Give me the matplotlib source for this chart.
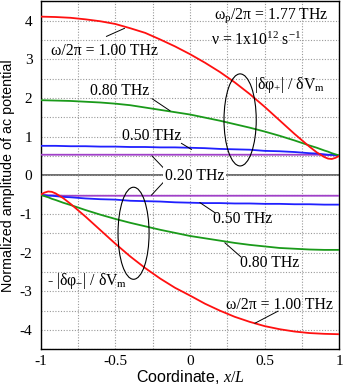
import matplotlib
matplotlib.use("Agg")
import matplotlib.pyplot as plt
from matplotlib.patches import Ellipse
from matplotlib.ticker import MultipleLocator

plt.rcParams["axes.unicode_minus"] = False
plt.rcParams["mathtext.fontset"] = "custom"
plt.rcParams["mathtext.rm"] = "Liberation Serif"
plt.rcParams["mathtext.it"] = "Liberation Serif:italic"

# values, x = coordinate x/L
x = [-1.0, -0.9, -0.8, -0.7, -0.6, -0.5, -0.4, -0.3, -0.2, -0.1, 0.0,
     0.1, 0.2, 0.3, 0.4, 0.5, 0.6, 0.7, 0.8, 0.85, 0.9, 0.925, 0.95, 0.975, 1.0]

# |dphi+| / dVm
red_up = [4.10, 4.09, 4.07, 4.03, 3.98, 3.91, 3.80, 3.68, 3.51, 3.33, 3.13,
          2.91, 2.67, 2.40, 2.10, 1.77, 1.42, 1.07, 0.74, 0.59, 0.47, 0.43, 0.42, 0.45, 0.50]
green_up = [1.94, 1.93, 1.92, 1.90, 1.88, 1.85, 1.81, 1.75, 1.69, 1.63, 1.57,
            1.49, 1.41, 1.32, 1.23, 1.13, 1.02, 0.90, 0.77, 0.71, 0.64, 0.61, 0.57, 0.54, 0.51]
blue_up = [0.76, 0.76, 0.75, 0.75, 0.74, 0.74, 0.73, 0.73, 0.72, 0.72, 0.71,
           0.70, 0.68, 0.67, 0.66, 0.63, 0.62, 0.60, 0.57, 0.56, 0.54, 0.53, 0.53, 0.52, 0.51]
purple_up = [0.53, 0.53, 0.53, 0.53, 0.53, 0.53, 0.53, 0.53, 0.53, 0.53, 0.53,
             0.53, 0.53, 0.53, 0.53, 0.53, 0.53, 0.53, 0.53, 0.53, 0.52, 0.52, 0.52, 0.51, 0.51]

# -|dphi-| / dVm
x_lo = [-1.0, -0.975, -0.95, -0.925, -0.9, -0.85, -0.8, -0.7, -0.6, -0.5, -0.4, -0.3, -0.2,
        -0.1, 0.0, 0.1, 0.2, 0.3, 0.4, 0.5, 0.6, 0.7, 0.8, 0.9, 1.0]
red_lo = [-0.50, -0.45, -0.42, -0.43, -0.47, -0.59, -0.74, -1.07, -1.42, -1.77, -2.10, -2.40, -2.67,
          -2.91, -3.11, -3.32, -3.50, -3.66, -3.79, -3.90, -3.98, -4.04, -4.08, -4.10, -4.11]
green_lo = [-0.51, -0.54, -0.57, -0.61, -0.64, -0.71, -0.77, -0.90, -1.02, -1.13, -1.23, -1.32, -1.41,
            -1.49, -1.57, -1.63, -1.69, -1.75, -1.80, -1.84, -1.88, -1.90, -1.92, -1.93, -1.93]
blue_lo = [-0.51, -0.52, -0.53, -0.53, -0.54, -0.56, -0.57, -0.60, -0.62, -0.63, -0.66, -0.67, -0.68,
           -0.70, -0.71, -0.72, -0.72, -0.73, -0.73, -0.74, -0.74, -0.75, -0.75, -0.76, -0.76]
purple_lo = [-0.51, -0.51, -0.52, -0.52, -0.52, -0.53, -0.53, -0.53, -0.53, -0.53, -0.53, -0.53, -0.53,
             -0.53, -0.53, -0.53, -0.53, -0.53, -0.53, -0.53, -0.53, -0.53, -0.53, -0.53, -0.53]

RED, GREEN, BLUE, PURPLE = "#ff1010", "#1a9a1a", "#2020ff", "#a040c8"
SERIF = "Liberation Serif"

fig = plt.figure(figsize=(3.43, 3.87), dpi=100)
ax = fig.add_axes([0.1187, 0.0974, 0.8703, 0.8996])

ax.axhline(0, color="#555555", lw=1.2, zorder=1)
for xs, ys, c in [(x, purple_up, PURPLE), (x, blue_up, BLUE), (x, green_up, GREEN), (x, red_up, RED),
                  (x_lo, purple_lo, PURPLE), (x_lo, blue_lo, BLUE), (x_lo, green_lo, GREEN),
                  (x_lo, red_lo, RED)]:
    ax.plot(xs, ys, color=c, lw=1.3, zorder=3)

ax.set_xlim(-1, 1)
ax.set_ylim(-4.5, 4.5)
ax.xaxis.set_minor_locator(MultipleLocator(0.25))
ax.yaxis.set_minor_locator(MultipleLocator(0.5))
ax.set_xticks([-1, -0.5, 0, 0.5, 1])
ax.set_xticklabels(["-1", "-0.5", "0", "0.5", "1"])
ax.set_yticks([-4, -3, -2, -1, 0, 1, 2, 3, 4])
ax.set_yticklabels(["-4", "-3", "-2", "-1", "0", "1", "2", "3", "4"])
ax.grid(which="both", color="#999999", ls=(0, (1, 1.5)), lw=0.8, zorder=0)
ax.tick_params(which="both", length=0, labelsize=11)
ax.tick_params(axis="x", pad=4)
ax.tick_params(axis="y", pad=6)
for lab in ax.get_xticklabels() + ax.get_yticklabels():
    lab.set_fontfamily(SERIF)
for s in ax.spines.values():
    s.set_linewidth(1.0)

ax.set_xlabel("Coordinate, $\\it{x/L}$", fontsize=11.5, family="Liberation Sans", labelpad=0)
ax.set_ylabel("Normalized amplitude of ac potential", fontsize=10.3, family="Liberation Sans", labelpad=3)

def px(u, v):
    # pixel position (from top-left) -> data coords
    return (u - 190.0) / 149.3, (174.7 - v) / 38.5

def label(txt, u, v, **kw):
    ax.text(*px(u, v), txt, fontsize=11.3, family=SERIF, ha="center", va="center", zorder=5, **kw)

def leader(u0, v0, u1, v1):
    a, b = px(u0, v0)
    c, d = px(u1, v1)
    ax.plot([a, c], [b, d], color="black", lw=0.7, zorder=4)

label("ω/2π = 1.00 THz", 105, 51)
leader(106.5, 36.5, 124.5, 28.5)
label("0.80 THz", 120, 91)
leader(152, 98.5, 170, 110.5)
label("0.50 THz", 152, 135.5)
leader(181.5, 143, 191.5, 149)
label("0.20 THz", 194.5, 175.5, bbox=dict(fc="white", ec="none", pad=1))
leader(165, 169, 152, 155.5)
leader(165, 180, 151.5, 194.5)
label("0.50 THz", 243, 218.5)
leader(200, 202, 215, 212)
label("0.80 THz", 270, 262)
leader(225, 242, 241, 256)
label("ω/2π = 1.00 THz", 280, 303.5)
leader(278, 310, 255, 322)

label("ω$_\\mathregular{p}$/2π = 1.77 THz", 271, 16)
label("ν = 1x10$^\\mathregular{12}$ s$^\\mathregular{-1}$", 256, 40)
label("|δφ$_\\mathregular{+}$| / δV$_\\mathregular{m}$", 290, 85)
label("- |δφ$_\\mathregular{-}$| / δV$_\\mathregular{m}$", 87, 280)

ax.add_patch(Ellipse((0.336, 1.43), 0.216, 2.38, fill=False, ec="black", lw=0.8, zorder=4))
ax.add_patch(Ellipse((-0.378, -1.50), 0.208, 2.38, fill=False, ec="black", lw=0.8, zorder=4))

fig.savefig("out.png", dpi=100)
